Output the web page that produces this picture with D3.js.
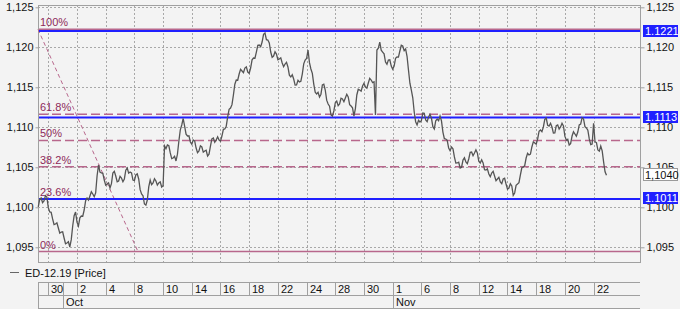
<!DOCTYPE html>
<html>
<head>
<meta charset="utf-8">
<script src="https://cdn.jsdelivr.net/npm/d3@7"></script>
<style>
  html, body { margin: 0; padding: 0; background: #f3f3f3; }
  svg { display: block; font-family: "Liberation Sans", Arial, sans-serif; }
</style>
</head>
<body>
<svg id="chart" width="680" height="309"></svg>
<script>
// ---------------- DATA ----------------
// trading-day index: 0 = 30 Sep; bars every 0.1 trading day
const priceStart = -0.7;
const priceStep = 0.1;
const price = [
  1.10004,1.10100,1.10116,1.10058,1.10079,1.10144,1.10129,1.09995,1.09941,1.09938,
  1.09854,1.09783,1.09791,1.09806,1.09741,1.09676,1.09691,1.09694,1.09616,1.09545,
  1.09554,1.09569,1.09504,1.09595,1.09766,1.09894,1.09941,1.09814,1.09766,1.09869,
  1.09891,1.09889,1.09966,1.10081,1.10116,1.10089,1.10141,1.10194,1.10166,1.10133,
  1.10179,1.10394,1.10529,1.10439,1.10429,1.10425,1.10341,1.10276,1.10291,1.10306,
  1.10241,1.10295,1.10429,1.10450,1.10391,1.10320,1.10329,1.10388,1.10366,1.10320,
  1.10354,1.10463,1.10491,1.10426,1.10441,1.10431,1.10341,1.10333,1.10404,1.10419,
  1.10354,1.10220,1.10166,1.10144,1.10041,1.10026,1.10091,1.10256,1.10341,1.10283,
  1.10304,1.10357,1.10329,1.10277,1.10304,1.10319,1.10254,1.10270,1.10766,1.10733,
  1.10779,1.10769,1.10679,1.10608,1.10616,1.10638,1.10579,1.10664,1.10829,1.10969,
  1.11029,1.11110,1.11016,1.10914,1.10891,1.10894,1.10816,1.10789,1.10841,1.10831,
  1.10741,1.10683,1.10704,1.10769,1.10754,1.10689,1.10704,1.10713,1.10641,1.10664,
  1.10766,1.10856,1.10866,1.10814,1.10841,1.10881,1.10841,1.10826,1.10891,1.10975,
  1.10979,1.11014,1.11129,1.11225,1.11241,1.11283,1.11404,1.11538,1.11591,1.11589,
  1.11666,1.11725,1.11704,1.11683,1.11741,1.11756,1.11691,1.11676,1.11741,1.11844,
  1.11866,1.11864,1.11941,1.12025,1.12029,1.12008,1.12066,1.12163,1.12179,1.12095,
  1.12091,1.12056,1.11941,1.11876,1.11891,1.11944,1.11916,1.11845,1.11854,1.11869,
  1.11804,1.11758,1.11791,1.11813,1.11754,1.11652,1.11629,1.11657,1.11604,1.11527,
  1.11529,1.11588,1.11566,1.11576,1.11666,1.11794,1.11841,1.11860,1.11966,1.11808,
  1.11729,1.11675,1.11541,1.11439,1.11416,1.11438,1.11379,1.11414,1.11529,1.11538,
  1.11466,1.11339,1.11291,1.11263,1.11154,1.11139,1.11204,1.11307,1.11329,1.11270,
  1.11291,1.11363,1.11354,1.11320,1.11366,1.11413,1.11379,1.11283,1.11266,1.11244,
  1.11141,1.11233,1.11404,1.11475,1.11466,1.11451,1.11516,1.11550,1.11504,1.11489,
  1.11554,1.11613,1.11591,1.11560,1.11570,1.11154,1.11966,1.11990,1.12066,1.11964,
  1.11941,1.11919,1.11816,1.11789,1.11841,1.11844,1.11766,1.11726,1.11766,1.11863,
  1.11879,1.11877,1.11954,1.12025,1.12016,1.11958,1.11979,1.11888,1.11716,1.11551,
  1.11466,1.11369,1.11191,1.11070,1.11029,1.11088,1.11066,1.11083,1.11179,1.11175,
  1.11091,1.11070,1.11129,1.11163,1.11116,1.11008,1.10979,1.11082,1.11104,1.11083,
  1.11141,1.11081,1.10941,1.10858,1.10854,1.10838,1.10741,1.10708,1.10754,1.10732,
  1.10629,1.10552,1.10554,1.10563,1.10491,1.10501,1.10591,1.10619,1.10566,1.10545,
  1.10604,1.10688,1.10691,1.10645,1.10679,1.10719,1.10679,1.10577,1.10554,1.10594,
  1.10554,1.10470,1.10466,1.10481,1.10416,1.10383,1.10429,1.10450,1.10391,1.10333,
  1.10354,1.10375,1.10316,1.10295,1.10354,1.10363,1.10291,1.10226,1.10241,1.10294,
  1.10266,1.10150,1.10179,1.10275,1.10291,1.10308,1.10404,1.10494,1.10504,1.10520,
  1.10616,1.10675,1.10654,1.10664,1.10754,1.10819,1.10804,1.10789,1.10854,1.10950,
  1.10966,1.10945,1.11004,1.11100,1.11116,1.11026,1.11016,1.11050,1.11004,1.10927,
  1.10929,1.11019,1.11029,1.10977,1.11004,1.11050,1.11016,1.10889,1.10841,1.10850,
  1.10779,1.10795,1.10891,1.10944,1.10916,1.10889,1.10941,1.11031,1.11041,1.11120,
  1.11104,1.11008,1.10991,1.10963,1.10854,1.10783,1.10791,1.11050,1.10820,1.10808,
  1.10716,1.10701,1.10766,1.10706,1.10566,1.10443,1.10400
];

const dayTickIndex = [0,2,4,6,8,10,12,14,16,18,20,22,24,26,28,30,32,34,36,38];
const dayTickLabels = ["30","2","4","8","10","14","16","18","22","24","28","30","1","6","8","12","14","18","20","22"];
const monthIndex = [1, 24];
const monthLabels = ["Oct", "Nov"];

const yTicks = [1.095, 1.100, 1.105, 1.110, 1.115, 1.120, 1.125];

const blueLevels = [1.1221, 1.1113, 1.1011];

const fibHigh = 1.12225, fibLow = 1.09446;
const fibHighT = -0.72, fibLowT = 6.25;
const fibRatios = [1, 0.618, 0.5, 0.382, 0.236, 0];
const fibLabels = ["100%", "61.8%", "50%", "38.2%", "23.6%", "0%"];

const seriesName = "ED-12.19 [Price]";

// ---------------- LAYOUT ----------------
const W = 680, H = 309;
const plot = { left: 38, right: 640, top: 5, bottom: 262 };
const axisRows = { top: 282, mid: 295, bottom: 308 };

const x = d3.scaleLinear().domain([-0.718, 41.235]).range([plot.left, plot.right]);
const y = d3.scaleLinear().domain([1.09316, 1.12529]).range([plot.bottom, plot.top]);

const svg = d3.select("#chart");
const gridColor = "#a8a8a8";
const borderColor = "#a0a0a0";
const fibColor = "#b8678c";
const fibText = "#8e2a5a";
const blue = "#1f1fff";

svg.append("rect").attr("width", W).attr("height", H).attr("fill", "#f3f3f3");

const commaFmt = v => d3.format(".3f")(v).replace(".", ",");

// grid
const grid = svg.append("g");
grid.selectAll("line.h").data(yTicks).join("line")
  .attr("x1", plot.left).attr("x2", plot.right)
  .attr("y1", d => Math.round(y(d)) + 0.5).attr("y2", d => Math.round(y(d)) + 0.5)
  .attr("stroke", gridColor).attr("stroke-width", 1).attr("stroke-dasharray", "2,2");
grid.selectAll("line.v").data(dayTickIndex).join("line")
  .attr("x1", d => Math.round(x(d)) + 0.5).attr("x2", d => Math.round(x(d)) + 0.5)
  .attr("y1", plot.top).attr("y2", plot.bottom)
  .attr("stroke", gridColor).attr("stroke-width", 1).attr("stroke-dasharray", "2,2");

// plot border
svg.append("rect")
  .attr("x", plot.left + 0.5).attr("y", plot.top + 0.5)
  .attr("width", plot.right - plot.left).attr("height", plot.bottom - plot.top)
  .attr("fill", "none").attr("stroke", borderColor);

// y axes (left and right)
const leftAxis = d3.axisLeft(y).tickValues(yTicks).tickFormat(commaFmt).tickSize(3).tickPadding(2);
const rightAxis = d3.axisRight(y).tickValues(yTicks).tickFormat(commaFmt).tickSize(4).tickPadding(2);
const gl = svg.append("g").attr("transform", `translate(${plot.left + 0.5},0)`).call(leftAxis);
const gr = svg.append("g").attr("transform", `translate(${plot.right + 0.5},0)`).call(rightAxis);
[gl, gr].forEach(g => {
  g.select(".domain").remove();
  g.selectAll(".tick line").attr("stroke", borderColor);
  g.selectAll(".tick text").attr("fill", "#111").attr("font-size", 11)
    .attr("font-family", "Liberation Sans, Arial, sans-serif");
});

// fib lines
const fibG = svg.append("g");
fibRatios.forEach((r, i) => {
  const v = fibLow + r * (fibHigh - fibLow);
  const yy = y(v);
  const solid = (r === 1 || r === 0);
  fibG.append("line")
    .attr("x1", plot.left + 1).attr("x2", plot.right)
    .attr("y1", yy).attr("y2", yy)
    .attr("stroke", fibColor).attr("stroke-width", 1.5)
    .attr("stroke-dasharray", solid ? null : "9,4");
  fibG.append("text")
    .attr("x", plot.left + 2).attr("y", yy - 3)
    .attr("font-size", 11).attr("fill", fibText)
    .text(fibLabels[i]);
});
// fib trend line
fibG.append("line")
  .attr("x1", x(fibHighT)).attr("y1", y(fibHigh))
  .attr("x2", x(fibLowT)).attr("y2", y(fibLow))
  .attr("stroke", fibColor).attr("stroke-width", 1).attr("stroke-dasharray", "4,3");

// blue levels
svg.append("g").selectAll("line").data(blueLevels).join("line")
  .attr("x1", plot.left + 1).attr("x2", plot.right)
  .attr("y1", d => y(d) + 0.5).attr("y2", d => y(d) + 0.5)
  .attr("stroke", blue).attr("stroke-width", 2);

// price line
const pts = price.map((v, i) => [priceStart + i * priceStep, v]);
svg.append("path")
  .datum(pts)
  .attr("fill", "none")
  .attr("stroke", "#555")
  .attr("stroke-width", 1.3)
  .attr("stroke-linejoin", "miter")
  .attr("d", d3.line().x(d => x(d[0])).y(d => y(d[1])));

// right-side level boxes
const boxG = svg.append("g");
blueLevels.forEach(v => {
  const yy = y(v);
  boxG.append("rect").attr("x", 643).attr("y", Math.round(yy) - 6).attr("width", 35).attr("height", 12)
    .attr("fill", blue);
  boxG.append("text").attr("x", 645).attr("y", Math.round(yy) + 4)
    .attr("font-size", 11).attr("fill", "#fff").text(d3.format(".4f")(v));
});
const last = price[price.length - 1];
const ly = Math.round(y(last));
boxG.append("rect").attr("x", 643.5).attr("y", ly - 6.5).attr("width", 34).attr("height", 12)
  .attr("fill", "#fff").attr("stroke", "#9a9a9a");
boxG.append("text").attr("x", 645).attr("y", ly + 4)
  .attr("font-size", 11).attr("fill", "#111").text(d3.format(".4f")(last).replace(".", ","));

// legend
svg.append("line").attr("x1", 10).attr("x2", 19).attr("y1", 272.5).attr("y2", 272.5)
  .attr("stroke", "#666").attr("stroke-width", 1);
svg.append("text").attr("x", 25).attr("y", 276.5).attr("font-size", 11).attr("fill", "#111").text(seriesName);

// date axis boxes
const ax = svg.append("g").attr("stroke", borderColor).attr("stroke-width", 1);
[axisRows.top, axisRows.mid, axisRows.bottom].forEach(yy => {
  ax.append("line").attr("x1", plot.left).attr("x2", plot.right).attr("y1", yy + 0.5).attr("y2", yy + 0.5);
});
ax.append("line").attr("x1", plot.left + 0.5).attr("x2", plot.left + 0.5).attr("y1", axisRows.top).attr("y2", axisRows.bottom + 1);
dayTickIndex.forEach(t => {
  const xx = Math.round(x(t)) + 0.5;
  ax.append("line").attr("x1", xx).attr("x2", xx).attr("y1", axisRows.top).attr("y2", axisRows.mid);
});
monthIndex.forEach(t => {
  const xx = Math.round(x(t)) + 0.5;
  ax.append("line").attr("x1", xx).attr("x2", xx).attr("y1", axisRows.top).attr("y2", axisRows.bottom);
});
svg.append("g").selectAll("text").data(dayTickIndex).join("text")
  .attr("x", d => Math.round(x(d)) + 3).attr("y", axisRows.mid - 2.5)
  .attr("font-size", 11).attr("fill", "#111")
  .text((d, i) => dayTickLabels[i]);
svg.append("g").selectAll("text").data(monthIndex).join("text")
  .attr("x", d => Math.round(x(d)) + 3).attr("y", axisRows.bottom - 2.5)
  .attr("font-size", 11).attr("fill", "#111")
  .text((d, i) => monthLabels[i]);
</script>
</body>
</html>
